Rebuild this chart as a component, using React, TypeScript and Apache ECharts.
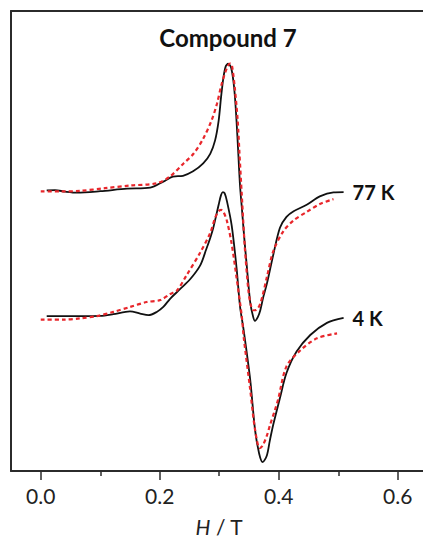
import React, { useEffect, useRef } from "react";
import * as echarts from "echarts";

// Field H / T and EPR signal (arbitrary units, 0 = bottom, 100 = top of frame)
const exp77: [number, number][] = [
  [0.010, 60.99], [0.024, 61.05], [0.041, 60.73], [0.061, 60.51], [0.100, 60.83],
  [0.145, 61.37], [0.184, 61.59], [0.206, 62.92], [0.222, 64.0], [0.239, 64.17],
  [0.256, 65.14], [0.273, 66.86], [0.285, 69.01], [0.293, 71.87], [0.299, 76.18],
  [0.303, 81.21], [0.307, 85.52], [0.311, 88.01], [0.315, 88.53], [0.320, 87.67],
  [0.325, 83.37], [0.329, 76.18], [0.332, 69.01], [0.335, 61.85], [0.338, 57.18],
  [0.342, 50.72], [0.346, 44.98], [0.352, 36.73], [0.357, 33.51], [0.360, 32.64],
  [0.365, 33.51], [0.369, 34.95], [0.374, 37.81], [0.380, 40.67], [0.391, 47.13],
  [0.402, 52.87], [0.413, 55.24], [0.425, 56.47], [0.447, 57.89], [0.469, 59.69],
  [0.492, 60.56], [0.509, 60.62],
];

const sim77: [number, number][] = [
  [0.000, 60.77], [0.032, 60.77], [0.066, 60.9], [0.108, 61.48], [0.150, 62.06],
  [0.195, 62.56], [0.217, 64.0], [0.240, 66.86], [0.257, 69.01], [0.273, 72.24],
  [0.287, 76.18], [0.296, 79.77], [0.304, 84.08], [0.313, 87.67], [0.318, 88.59],
  [0.321, 88.38], [0.326, 83.43], [0.331, 76.18], [0.334, 69.01], [0.338, 59.69],
  [0.343, 48.57], [0.349, 39.25], [0.353, 36.09], [0.357, 34.95], [0.362, 35.01],
  [0.369, 36.37], [0.380, 42.11], [0.391, 47.86], [0.408, 52.16], [0.425, 54.49],
  [0.447, 56.32], [0.469, 58.04], [0.492, 59.11],
];

const exp4: [number, number][] = [
  [0.010, 33.66], [0.066, 33.66], [0.100, 33.72], [0.122, 34.09], [0.150, 34.69],
  [0.167, 34.22], [0.181, 33.87], [0.195, 34.58], [0.206, 35.66], [0.217, 37.38],
  [0.234, 39.53], [0.251, 41.68], [0.268, 44.7], [0.278, 48.14], [0.285, 50.72],
  [0.290, 52.87], [0.299, 57.89], [0.303, 59.97], [0.306, 60.62], [0.309, 60.4],
  [0.313, 58.62], [0.321, 53.3], [0.329, 44.27], [0.335, 35.66], [0.341, 30.64],
  [0.352, 19.88], [0.360, 9.12], [0.367, 3.81], [0.373, 1.94], [0.380, 3.38],
  [0.385, 6.61], [0.391, 10.2], [0.402, 15.86], [0.413, 21.3], [0.430, 25.97],
  [0.453, 29.57], [0.481, 32.21], [0.509, 33.29],
];

const sim4: [number, number][] = [
  [0.000, 32.92], [0.038, 32.92], [0.066, 33.18], [0.094, 33.66], [0.122, 34.58],
  [0.150, 35.66], [0.178, 36.73], [0.201, 37.16], [0.217, 38.45], [0.229, 39.25],
  [0.245, 42.54], [0.268, 47.49], [0.285, 51.8], [0.293, 55.02], [0.299, 56.47],
  [0.303, 56.75], [0.307, 56.32], [0.313, 54.31], [0.321, 49.28], [0.329, 42.11],
  [0.338, 33.51], [0.341, 29.2], [0.352, 17.73], [0.360, 9.12], [0.368, 4.99],
  [0.373, 5.53], [0.380, 7.68], [0.385, 9.83], [0.394, 13.43], [0.399, 15.58],
  [0.413, 22.75], [0.436, 26.19], [0.464, 28.84], [0.498, 29.91],
];

const majorTicks = [0, 0.2, 0.4, 0.6];
const minorTicks = [0.1, 0.3, 0.5];
const title = "Compound 7";
const seriesLabels = ["77 K", "4 K"];

const FONT = "Lato, 'Open Sans', sans-serif";
const AXIS_COLOR = "#2b2b2b";
const EXP_COLOR = "#111111";
const SIM_COLOR = "#e8262b";

export default function App() {
  const ref = useRef<HTMLDivElement>(null);
  useEffect(() => {
    if (!ref.current) return;
    const chart = echarts.init(ref.current, undefined, { renderer: "svg" });
    const expLine = (data: [number, number][], label: string) => ({
      type: "line",
      data,
      smooth: 0.3,
      symbol: "none",
      lineStyle: { color: EXP_COLOR, width: 1.8 },
      endLabel: {
        show: true,
        formatter: label,
        distance: 9,
        fontFamily: FONT,
        fontWeight: "bold",
        fontSize: 20,
        color: EXP_COLOR,
      },
      z: 2,
    });
    const simLine = (data: [number, number][]) => ({
      type: "line",
      data,
      smooth: 0.3,
      symbol: "none",
      lineStyle: { color: SIM_COLOR, width: 2.2, type: [4, 3] },
      z: 3,
    });
    chart.setOption({
      animation: false,
      grid: {
        left: 11,
        right: 0.5,
        top: 11,
        bottom: 66.3,
        show: false,
      },
      xAxis: [
        {
          type: "value",
          min: -0.05,
          max: 0.65,
          position: "bottom",
          splitLine: { show: false },
          axisLine: { show: true, onZero: false, lineStyle: { color: AXIS_COLOR, width: 2 } },
          axisTick: {
            show: true,
            inside: false,
            length: 9,
            customValues: majorTicks,
            lineStyle: { color: AXIS_COLOR, width: 1.5 },
          },
          axisLabel: {
            show: true,
            customValues: majorTicks,
            formatter: (v: number) => v.toFixed(1),
            margin: 14,
            fontFamily: FONT,
            fontSize: 21,
            color: "#222",
          },
          name: "{i|H} / T",
          nameLocation: "middle",
          nameGap: 45,
          nameTextStyle: {
            fontFamily: FONT,
            fontSize: 21,
            color: "#222",
            rich: { i: { fontFamily: FONT, fontSize: 21, fontStyle: "italic", color: "#222" } },
          },
        },
        {
          type: "value",
          min: -0.05,
          max: 0.65,
          position: "bottom",
          splitLine: { show: false },
          axisLine: { show: false, onZero: false },
          axisTick: {
            show: true,
            inside: false,
            length: 5,
            customValues: minorTicks,
            lineStyle: { color: AXIS_COLOR, width: 1.5 },
          },
          axisLabel: { show: false },
        },
        {
          type: "value",
          min: -0.05,
          max: 0.65,
          position: "top",
          splitLine: { show: false },
          axisLine: { show: true, onZero: false, lineStyle: { color: AXIS_COLOR, width: 2 } },
          axisTick: { show: false },
          axisLabel: { show: false },
        },
      ],
      yAxis: {
        type: "value",
        min: 0,
        max: 100,
        position: "left",
        splitLine: { show: false },
        axisLine: { show: true, onZero: false, lineStyle: { color: AXIS_COLOR, width: 2 } },
        axisTick: { show: false },
        axisLabel: { show: false },
      },
      graphic: [
        {
          type: "text",
          x: 228,
          y: 37,
          style: {
            text: title,
            fill: "#111",
            font: `bold 24px ${FONT}`,
            textAlign: "center",
            textVerticalAlign: "middle",
            verticalAlign: "middle",
          },
        },
      ],
      series: [
        expLine(exp77, seriesLabels[0]),
        simLine(sim77),
        expLine(exp4, seriesLabels[1]),
        simLine(sim4),
      ],
    });
    return () => chart.dispose();
  }, []);
  return (
    <div
      style={{
        position: "absolute",
        left: 0,
        top: 0,
        width: 423,
        height: 542,
        overflow: "hidden",
        background: "#fff",
      }}
    >
      <div ref={ref} style={{ width: 428, height: 542 }} />
    </div>
  );
}
